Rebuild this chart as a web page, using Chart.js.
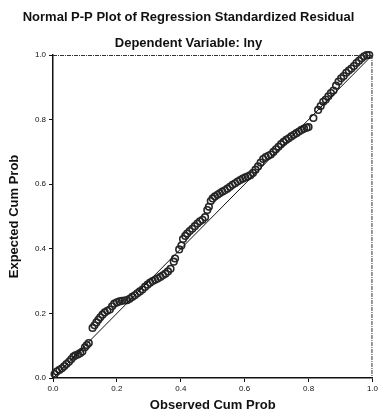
<!DOCTYPE html>
<html>
<head>
<meta charset="utf-8">
<title>Normal P-P Plot</title>
<script src="https://cdn.jsdelivr.net/npm/chart.js@4.4.1/dist/chart.umd.min.js"></script>
<style>
    html, body { margin: 0; padding: 0; background: #fff; }
    #wrap { width: 380px; height: 420px; }
</style>
</head>
<body>
<div id="wrap"><canvas id="pp"></canvas></div>
<script>
    // observed cumulative probability (x) and expected cumulative probability (y)
    var observed = [
        0.005, 0.012, 0.02, 0.028, 0.035, 0.042, 0.05, 0.057, 0.064, 0.07,
        0.078, 0.085, 0.092, 0.1, 0.106, 0.112,
        0.124, 0.13, 0.136, 0.142, 0.148, 0.155, 0.162, 0.17, 0.178, 0.185,
        0.192, 0.2, 0.208, 0.216, 0.224, 0.232, 0.24, 0.248, 0.256, 0.264,
        0.272, 0.28, 0.288, 0.296, 0.304, 0.312, 0.32, 0.328, 0.336, 0.344,
        0.352, 0.36, 0.368, 0.378, 0.382, 0.395, 0.402, 0.407, 0.414, 0.42,
        0.428, 0.436, 0.444, 0.452, 0.46, 0.468, 0.476, 0.483, 0.488, 0.494,
        0.5, 0.507, 0.515, 0.522, 0.53, 0.538, 0.546, 0.554, 0.562, 0.57,
        0.578, 0.586, 0.594, 0.602, 0.61, 0.618, 0.626, 0.634, 0.642, 0.65,
        0.658, 0.666, 0.674, 0.682, 0.69, 0.698, 0.706, 0.714, 0.722, 0.73,
        0.738, 0.746, 0.754, 0.762, 0.77, 0.778, 0.786, 0.794, 0.8,
        0.815, 0.83, 0.838, 0.846, 0.854, 0.862, 0.87, 0.878, 0.886, 0.894,
        0.902, 0.91, 0.918, 0.926, 0.934, 0.942, 0.95, 0.958, 0.966, 0.974,
        0.982, 0.99
    ];
    var expected = [
        0.012, 0.02, 0.025, 0.03, 0.036, 0.043, 0.05, 0.058, 0.066, 0.07,
        0.073, 0.077, 0.082, 0.095, 0.102, 0.108,
        0.155, 0.163, 0.172, 0.18, 0.188, 0.196, 0.203, 0.208, 0.212, 0.222,
        0.23, 0.234, 0.237, 0.239, 0.24, 0.241, 0.245, 0.251, 0.256, 0.262,
        0.268, 0.274, 0.282, 0.289, 0.295, 0.3, 0.304, 0.308, 0.313, 0.318,
        0.323, 0.33, 0.338, 0.36, 0.37, 0.398, 0.41, 0.43, 0.44, 0.447,
        0.455, 0.462, 0.47, 0.478, 0.485, 0.49, 0.498, 0.52, 0.53, 0.548,
        0.556, 0.562, 0.567, 0.572, 0.577, 0.581, 0.586, 0.592, 0.598, 0.603,
        0.608, 0.613, 0.617, 0.621, 0.624, 0.628, 0.635, 0.645, 0.655, 0.667,
        0.678, 0.684, 0.688, 0.692, 0.7, 0.708, 0.716, 0.724, 0.731, 0.737,
        0.742, 0.748, 0.753, 0.758, 0.763, 0.768, 0.772, 0.775, 0.777,
        0.805, 0.83, 0.842, 0.855, 0.862, 0.872, 0.882, 0.89, 0.905, 0.918,
        0.928, 0.935, 0.945, 0.952, 0.958, 0.966, 0.975, 0.982, 0.99, 0.996,
        1.0, 1.0
    ];
    var refLine = [0, 1];
    var tickValues = [0, 0.2, 0.4, 0.6, 0.8, 1.0];

    var points = [];
    var i;
    for(i = 0; i < observed.length; i++){
        points.push({x: observed[i], y: expected[i]});
    }

    // thin dashed frame on top and right, like the SPSS output
    var framePlugin = {
        id: "frame",
        afterDraw: function(chart){
            var a = chart.chartArea;
            var c = chart.ctx;
            c.save();
            c.strokeStyle = "#333";
            c.lineWidth = 1;
            c.setLineDash([4, 1, 1, 1]);
            c.beginPath();
            c.moveTo(a.left, a.top + 0.5);
            c.lineTo(a.right, a.top + 0.5);
            c.moveTo(a.right - 0.5, a.top);
            c.lineTo(a.right - 0.5, a.bottom);
            c.stroke();
            c.restore();
        }
    };

    var tickFont = { family: "'Liberation Sans', Arial, sans-serif", size: 8 };
    var titleFont = { family: "'Liberation Sans', Arial, sans-serif", size: 13, weight: "bold" };

    new Chart(document.getElementById("pp"), {
        type: "scatter",
        data: {
            datasets: [
                {
                    type: "line",
                    data: [{x: refLine[0], y: refLine[0]}, {x: refLine[1], y: refLine[1]}],
                    borderColor: "#111",
                    borderWidth: 1,
                    pointRadius: 0,
                    fill: false
                },
                {
                    data: points,
                    pointStyle: "circle",
                    pointRadius: 3.3,
                    borderColor: "#262626",
                    borderWidth: 1.6,
                    backgroundColor: "rgba(255,255,255,0)",
                    clip: false
                }
            ]
        },
        options: {
            responsive: true,
            maintainAspectRatio: false,
            animation: false,
            layout: { padding: { left: 0, right: 3, top: 0, bottom: 0 } },
            plugins: {
                legend: { display: false },
                tooltip: { enabled: false },
                title: {
                    display: true,
                    text: "Normal P-P Plot of Regression Standardized Residual",
                    color: "#111",
                    font: titleFont,
                    padding: { top: 10, bottom: 7.6 }
                },
                subtitle: {
                    display: true,
                    text: "Dependent Variable: lny",
                    color: "#111",
                    font: titleFont,
                    padding: { top: 2, bottom: 4.2 }
                }
            },
            scales: {
                x: {
                    type: "linear",
                    min: 0,
                    max: 1,
                    afterFit: function(s){ s.height = 42; },
                    afterBuildTicks: function(s){
                        s.ticks = tickValues.map(function(v){ return {value: v}; });
                    },
                    ticks: {
                        color: "#111",
                        font: tickFont,
                        padding: 2,
                        maxRotation: 0,
                        callback: function(v){ return v.toFixed(1); }
                    },
                    grid: { drawOnChartArea: false, drawTicks: true, tickLength: 4, color: "#111" },
                    border: { color: "#111", width: 1.5 },
                    title: {
                        display: true,
                        text: "Observed Cum Prob",
                        color: "#111",
                        font: titleFont,
                        padding: { top: 0, bottom: 7 }
                    }
                },
                y: {
                    type: "linear",
                    min: 0,
                    max: 1,
                    afterFit: function(s){ s.width = 53; },
                    afterBuildTicks: function(s){
                        s.ticks = tickValues.map(function(v){ return {value: v}; });
                    },
                    ticks: {
                        color: "#111",
                        font: tickFont,
                        padding: 3,
                        callback: function(v){ return v.toFixed(1); }
                    },
                    grid: { drawOnChartArea: false, drawTicks: true, tickLength: 4, color: "#111" },
                    border: { color: "#111", width: 1.5 },
                    title: {
                        display: true,
                        text: "Expected Cum Prob",
                        color: "#111",
                        font: titleFont,
                        padding: { top: 7, bottom: 0 }
                    }
                }
            }
        },
        plugins: [framePlugin]
    });
</script>
</body>
</html>
